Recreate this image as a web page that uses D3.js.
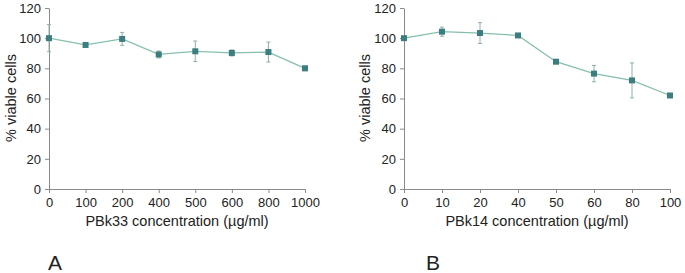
<!DOCTYPE html>
<html>
<head>
<meta charset="utf-8">
<script src="https://cdn.jsdelivr.net/npm/d3@7"></script>
<style>
  body { margin: 0; background: #fff; }
  text { font-family: "Liberation Sans", Arial, sans-serif; fill: #222; }
</style>
</head>
<body>
<svg id="chart" width="685" height="273"></svg>
<script>
/*************************Data********************* */
const concA = ["0", "100", "200", "400", "500", "600", "800", "1000"];
const viableA = [100, 95.5, 99.5, 89.2, 91.3, 90.2, 90.8, 80];
const errA = [9, 1.2, 4.3, 2.3, 6.8, 2, 6.6, 1.5];

const concB = ["0", "10", "20", "40", "50", "60", "80", "100"];
const viableB = [100, 104.3, 103.4, 101.8, 84.4, 76.5, 72, 62];
const errB = [0.8, 3, 6.9, 1, 0.8, 5.4, 11.6, 1];

const yTicks = [0, 20, 40, 60, 80, 100, 120];

/*************************Drawing********************* */
const svg = d3.select("svg#chart");
const lineColor = "#86bfac";
const markColor = "#3c7d7f";
const axisColor = "#8a8a8a";

const drawPanel = (cfg) => {
  const g = svg.append("g").attr("class", "panel");
  const x = d3.scalePoint().domain(cfg.cats).range([cfg.x0, cfg.x1]).padding(0);
  const y = d3.scaleLinear().domain([0, 120]).range([189, 8]);

  // y axis
  const yAxis = d3.axisLeft(y).tickValues(yTicks).tickSize(4).tickSizeOuter(0).tickPadding(4);
  const ya = g.append("g").attr("transform", `translate(${cfg.x0},0)`).call(yAxis);
  ya.select(".domain").attr("stroke", axisColor);
  ya.selectAll(".tick line").attr("stroke", axisColor);
  ya.selectAll(".tick text").style("font-size", "13px").attr("fill", "#222");

  // x axis
  const xAxis = d3.axisBottom(x).tickSize(4).tickSizeOuter(0).tickPadding(5);
  const xa = g.append("g").attr("transform", `translate(0,${y(0)})`).call(xAxis);
  xa.select(".domain").attr("stroke", axisColor);
  xa.selectAll(".tick line").attr("stroke", axisColor);
  xa.selectAll(".tick text").style("font-size", "13px").attr("fill", "#222");

  const pts = cfg.cats.map((c, i) => ({ c, v: cfg.vals[i], e: cfg.errs[i] }));

  // line
  g.append("path")
    .datum(pts)
    .attr("fill", "none")
    .attr("stroke", lineColor)
    .attr("stroke-width", 1.3)
    .attr("d", d3.line().x((d) => x(d.c)).y((d) => y(d.v)));

  // error bars
  const eb = g.append("g").selectAll("g").data(pts).join("g");
  eb.append("line")
    .attr("x1", (d) => x(d.c)).attr("x2", (d) => x(d.c))
    .attr("y1", (d) => y(d.v - d.e)).attr("y2", (d) => y(d.v + d.e))
    .attr("stroke", "#8fb0aa").attr("stroke-width", 1);
  [-1, 1].forEach((s) => {
    eb.append("line")
      .attr("x1", (d) => x(d.c) - 2).attr("x2", (d) => x(d.c) + 2)
      .attr("y1", (d) => y(d.v + s * d.e)).attr("y2", (d) => y(d.v + s * d.e))
      .attr("stroke", "#8fb0aa").attr("stroke-width", 1);
  });

  // markers
  g.append("g").selectAll("rect").data(pts).join("rect")
    .attr("x", (d) => x(d.c) - 3)
    .attr("y", (d) => y(d.v) - 3)
    .attr("width", 6).attr("height", 6)
    .attr("fill", markColor);

  // axis titles
  g.append("text")
    .text(cfg.xTitle)
    .attr("x", (cfg.x0 + cfg.x1) / 2)
    .attr("y", 226)
    .attr("text-anchor", "middle")
    .style("font-size", "14.5px");
  g.append("text")
    .text("% viable cells")
    .attr("text-anchor", "middle")
    .attr("transform", `translate(${cfg.yLabelX},98) rotate(-90)`)
    .style("font-size", "14.5px");

  // panel letter
  g.append("text")
    .text(cfg.letter)
    .attr("x", cfg.letterX)
    .attr("y", 270)
    .attr("text-anchor", "middle")
    .style("font-size", "21px");
};

drawPanel({ cats: concA, vals: viableA, errs: errA, x0: 49, x1: 305, xTitle: "PBk33 concentration (\u00b5g/ml)", yLabelX: 16, letter: "A", letterX: 55 });
drawPanel({ cats: concB, vals: viableB, errs: errB, x0: 404, x1: 670, xTitle: "PBk14 concentration (\u00b5g/ml)", yLabelX: 370, letter: "B", letterX: 433 });
</script>
</body>
</html>
